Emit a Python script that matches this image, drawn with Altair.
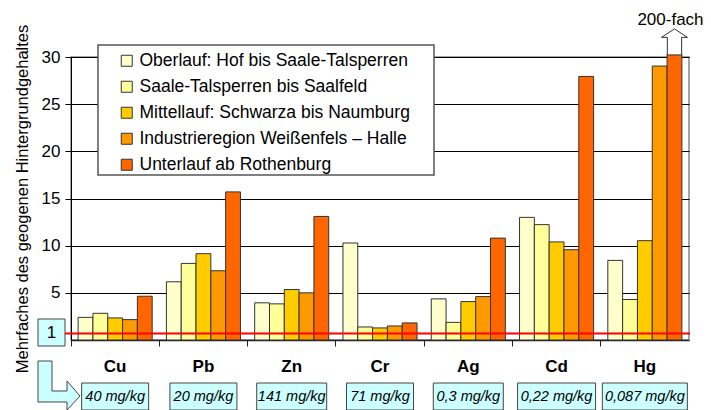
import altair as alt
import pandas as pd

metals = ["Cu", "Pb", "Zn", "Cr", "Ag", "Cd", "Hg"]
series = [
    "Oberlauf: Hof bis Saale-Talsperren",
    "Saale-Talsperren bis Saalfeld",
    "Mittellauf: Schwarza bis Naumburg",
    "Industrieregion Weißenfels – Halle",
    "Unterlauf ab Rothenburg",
]
colors = ["#FFFFCC", "#FFFF99", "#FFCC00", "#FF9900", "#FF6600"]

oberlauf = [2.4, 6.17, 3.94, 10.28, 4.36, 13.0, 8.44]
talsperren = [2.83, 8.12, 3.83, 1.38, 1.87, 12.23, 4.29]
mittellauf = [2.34, 9.15, 5.35, 1.28, 4.07, 10.4, 10.53]
industrie = [2.16, 7.34, 5.0, 1.49, 4.6, 9.57, 29.04]
unterlauf = [4.64, 15.7, 13.1, 1.81, 10.8, 27.94, 30.3]

background = ["40 mg/kg", "20 mg/kg", "141 mg/kg", "71 mg/kg", "0,3 mg/kg", "0,22 mg/kg", "0,087 mg/kg"]
box_widths = [67, 67, 70, 67, 70, 78, 85]
ref_value = [0.7]
ref_label = ["1"]
hg_note = ["200-fach"]

FONT = "Liberation Sans"

rows = []
for s, vals in zip(series, [oberlauf, talsperren, mittellauf, industrie, unterlauf]):
    for m, v in zip(metals, vals):
        rows.append({"metal": m, "series": s, "value": v})
df = pd.DataFrame(rows)

x_enc = alt.X(
    "metal:N",
    sort=metals,
    scale=alt.Scale(domain=metals, paddingInner=0, paddingOuter=0),
    axis=alt.Axis(labels=False, title=None, bandPosition=0, tickSize=6,
                  domainColor="#222", domainWidth=1.5, tickColor="#222", grid=False),
)
xoff_enc = alt.XOffset(
    "series:N", sort=series,
    scale=alt.Scale(domain=series, paddingInner=0, paddingOuter=0.48),
)
y_enc = alt.Y(
    "value:Q",
    stack=None,
    scale=alt.Scale(domain=[0, 30], nice=False, zero=True),
    axis=alt.Axis(
        values=[5, 10, 15, 20, 25, 30], grid=True, gridColor="black", gridWidth=1,
        tickSize=6, tickColor="black", domainColor="black", labelFontSize=17,
        labelPadding=5, labelColor="black",
        title="Mehrfaches des geogenen Hintergrundgehaltes", titleFontSize=16.5,
        titleFontWeight="normal", titleColor="black", titleAngle=270,
        titleX=-49, titleY=141.5, titleBaseline="middle", titleAlign="center",
    ),
)

legend_box = alt.Chart(pd.DataFrame({"a": [0]})).mark_rect(
    fill="white", stroke="#555", strokeWidth=1.5
).encode(x=alt.value(27), x2=alt.value(363), y=alt.value(-12), y2=alt.value(118))

bars = alt.Chart(df).mark_bar(stroke="#333", strokeWidth=1).encode(
    x=x_enc,
    xOffset=xoff_enc,
    y=y_enc,
    color=alt.Color(
        "series:N", sort=series,
        scale=alt.Scale(domain=series, range=colors),
        legend=alt.Legend(
            orient="none", legendX=47, legendY=-5, title=None,
            symbolType="square", symbolSize=121, symbolStrokeColor="#333",
            symbolStrokeWidth=1, labelFontSize=17.5, labelFont=FONT,
            labelColor="black", rowPadding=7, labelOffset=4, padding=0,
            labelLimit=400,
        ),
    ),
)

ref_df = pd.DataFrame({"value": ref_value})
ref_rule = alt.Chart(ref_df).mark_rule(color="#FF0000", strokeWidth=2).encode(
    y=y_enc, x=alt.value(-6), x2=alt.value(619)
)

one_box = alt.Chart(pd.DataFrame({"a": [0]})).mark_rect(
    fill="#CCFFFF", stroke="#444", strokeWidth=1
).encode(x=alt.value(-33), x2=alt.value(-6), y=alt.value(262), y2=alt.value(289))
one_text = alt.Chart(pd.DataFrame({"label": ref_label, "value": ref_value})).mark_text(
    fontSize=17, color="black", baseline="middle", align="center"
).encode(x=alt.value(-19.5), y=y_enc, text="label:N")

cat_df = pd.DataFrame({"metal": metals, "bg": background, "w": box_widths})
cat_labels = alt.Chart(cat_df).mark_text(
    fontSize=17, fontWeight="bold", color="black", baseline="middle"
).encode(x=x_enc, y=alt.value(310), text="metal:N")

val_boxes = alt.Chart(cat_df).mark_bar(
    fill="#CCFFFF", stroke="#444", strokeWidth=1
).encode(x=x_enc, y=alt.value(326), y2=alt.value(353),
         size=alt.Size("w:Q", scale=None, legend=None))
val_text = alt.Chart(cat_df).mark_text(
    fontSize=14.5, fontStyle="italic", color="black", baseline="middle"
).encode(x=x_enc, y=alt.value(340), text="bg:N")

l_arrow_path = ("M-0.857,-1 L-0.286,-1 L-0.286,0.224 L0.327,0.224 L0.327,-0.184 "
                "L0.857,0.429 L0.327,1 L0.327,0.673 L-0.857,0.673 Z")
l_arrow = alt.Chart(pd.DataFrame({"a": [0]})).mark_point(
    shape=l_arrow_path, size=2401, filled=True, fill="#CCFFFF",
    stroke="#444", strokeWidth=1, opacity=1
).encode(x=alt.value(-12), y=alt.value(328.5))

up_arrow_path = "M0,-1 L1,-0.35 L0.55,-0.35 L0.55,1 L-0.55,1 L-0.55,-0.35 L-1,-0.35 Z"
arrow_df = pd.DataFrame({"metal": ["Hg"], "series": [series[4]], "value": [31.6], "note": hg_note})
up_arrow = alt.Chart(arrow_df).mark_point(
    shape=up_arrow_path, size=676, filled=True, fill="white",
    stroke="#333", strokeWidth=1, opacity=1
).encode(x=x_enc, xOffset=xoff_enc, y=y_enc)
note = alt.Chart(arrow_df).mark_text(
    fontSize=17, color="black", baseline="middle", dx=-4
).encode(x=x_enc, xOffset=xoff_enc, y=alt.value(-37), text="note:N")

chart = alt.layer(
    legend_box, bars, ref_rule, one_box, one_text, cat_labels,
    val_boxes, val_text, l_arrow, up_arrow, note
).properties(
    width=618, height=283,
    padding={"left": 63, "top": 49, "right": 14, "bottom": 70},
    autosize="none",
).configure(font=FONT).configure_view(stroke="#888", strokeWidth=1.5)

chart.save("out.html", embed_options={"renderer": "svg", "actions": False})
